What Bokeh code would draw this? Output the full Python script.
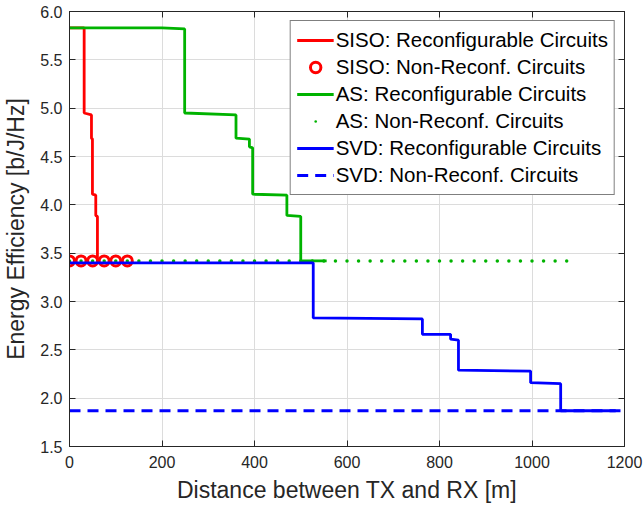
from bokeh.plotting import figure
from bokeh.models import Range1d, FixedTicker, LinearAxis, PrintfTickFormatter
from bokeh.embed import file_html
from bokeh.resources import INLINE

# ---------------- data ----------------
X_TICKS = [0, 200, 400, 600, 800, 1000, 1200]
Y_TICKS = [1.5, 2.0, 2.5, 3.0, 3.5, 4.0, 4.5, 5.0, 5.5, 6.0]

siso_rc_x = [0, 31.7, 31.7, 47.5, 47.5, 49.6, 49.6, 56.8, 56.8, 60.4, 60.4]
siso_rc_y = [5.83, 5.83, 4.95, 4.93, 4.69, 4.68, 4.11, 4.10, 3.89, 3.88, 3.42]

siso_nr_x = [0, 25, 50, 75, 100, 125]
siso_nr_y = [3.42, 3.42, 3.42, 3.42, 3.42, 3.42]

as_rc_x = [0, 200, 249, 249, 360, 360, 389, 389, 396, 396, 470, 470, 500, 500, 556]
as_rc_y = [5.83, 5.83, 5.82, 4.95, 4.93, 4.69, 4.68, 4.60, 4.59, 4.11, 4.10, 3.89, 3.88, 3.42, 3.42]

as_nr_x = [0, 25, 50, 75, 100, 125, 150, 175, 200, 225, 250, 275, 300, 325, 350,
           375, 400, 425, 450, 475, 500, 525, 550, 575, 600, 625, 650, 675, 700,
           725, 750, 775, 800, 825, 850, 875, 900, 925, 950, 975, 1000, 1025,
           1050, 1075]
as_nr_y = [3.42] * len(as_nr_x)

svd_rc_x = [0, 527, 527, 763, 763, 824, 824, 841, 841, 997, 997, 1062, 1062, 1181]
svd_rc_y = [3.40, 3.40, 2.83, 2.82, 2.66, 2.66, 2.61, 2.60, 2.29, 2.28, 2.16, 2.15, 1.87, 1.87]

svd_nr_x = [0, 1200]
svd_nr_y = [1.87, 1.87]

RED = "#ff0000"
GREEN = "#00b300"
BLUE = "#0000ff"
AXC = "#262626"
FONT = "Liberation Sans"

p = figure(width=644, height=510, output_backend="svg", toolbar_location=None,
           x_range=Range1d(0, 1200), y_range=Range1d(1.5, 6.0),
           min_border_left=68, min_border_right=20, min_border_top=11,
           min_border_bottom=64)
p.background_fill_color = "white"
p.border_fill_color = "white"
p.outline_line_color = AXC
p.outline_line_width = 1

lw = 2.8
p.line(siso_rc_x, siso_rc_y, color=RED, line_width=lw,
       legend_label="SISO: Reconfigurable Circuits")
p.scatter(siso_nr_x, siso_nr_y, marker="circle", size=10, fill_color=None,
          line_color=RED, line_width=3, legend_label="SISO: Non-Reconf. Circuits")
p.line(as_rc_x, as_rc_y, color=GREEN, line_width=lw,
       legend_label="AS: Reconfigurable Circuits")
p.scatter(as_nr_x, as_nr_y, marker="dot", size=14, line_color=GREEN,
          fill_color=GREEN, legend_label="AS: Non-Reconf. Circuits")
p.line(svd_rc_x, svd_rc_y, color=BLUE, line_width=lw,
       legend_label="SVD: Reconfigurable Circuits")
p.line(svd_nr_x, svd_nr_y, color=BLUE, line_width=lw, line_dash="11 7",
       legend_label="SVD: Non-Reconf. Circuits")

# axes
xa = p.xaxis[0]
ya = p.yaxis[0]
xa.ticker = FixedTicker(ticks=X_TICKS)
ya.ticker = FixedTicker(ticks=Y_TICKS)
ya.formatter = PrintfTickFormatter(format="%.1f")
for ax in (xa, ya):
    ax.major_tick_in = 6
    ax.major_tick_out = 0
    ax.minor_tick_in = 0
    ax.minor_tick_out = 0
    ax.axis_line_color = AXC
    ax.major_tick_line_color = AXC
    ax.major_label_text_font = FONT
    ax.major_label_text_font_size = "16px"
    ax.major_label_text_color = AXC
    ax.axis_label_text_font = FONT
    ax.axis_label_text_font_size = "23px"
    ax.axis_label_text_font_style = "normal"
    ax.axis_label_text_color = AXC
xa.axis_label = "Distance between TX and RX [m]"
ya.axis_label = "Energy Efficiency [b/J/Hz]"
xa.major_label_standoff = 9
ya.major_label_standoff = 7
xa.axis_label_standoff = 6
ya.axis_label_standoff = 8

top = LinearAxis(ticker=FixedTicker(ticks=X_TICKS), major_tick_in=6, major_tick_out=0,
                 minor_tick_in=0, minor_tick_out=0, major_label_text_font_size="1px",
                 major_label_text_color=None, major_label_standoff=0,
                 axis_line_color=AXC, major_tick_line_color=AXC)
right = LinearAxis(ticker=FixedTicker(ticks=Y_TICKS), major_tick_in=6, major_tick_out=0,
                   minor_tick_in=0, minor_tick_out=0, major_label_text_font_size="1px",
                   major_label_text_color=None, major_label_standoff=0,
                   axis_line_color=AXC, major_tick_line_color=AXC)
p.add_layout(top, "above")
p.add_layout(right, "right")

# grid
p.xgrid.grid_line_color = "#dcdcdc"
p.ygrid.grid_line_color = "#dcdcdc"
p.xgrid.grid_line_width = 1
p.ygrid.grid_line_width = 1

# legend
lg = p.legend[0]
lg.location = "top_right"
lg.margin = 9
lg.padding = 6
lg.spacing = 1
lg.label_height = 26
lg.glyph_height = 26
lg.glyph_width = 37
lg.label_standoff = 2
lg.label_text_font = FONT
lg.label_text_font_size = "20.5px"
lg.label_text_color = "black"
lg.border_line_color = "black"
lg.border_line_width = 1
lg.background_fill_color = "white"
lg.background_fill_alpha = 1.0

open("out.html", "w").write(file_html(p, INLINE))
